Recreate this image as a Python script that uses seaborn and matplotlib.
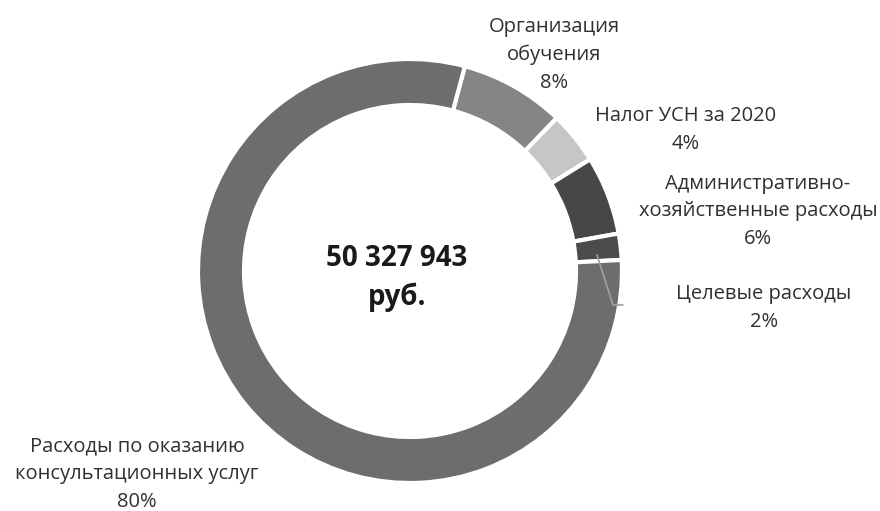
import matplotlib
matplotlib.use('Agg')
import matplotlib.pyplot as plt
import seaborn as sns

categories = [
    'Организация\nобучения',
    'Налог УСН за 2020',
    'Административно-\nхозяйственные расходы',
    'Целевые расходы',
    'Расходы по оказанию\nконсультационных услуг',
]
shares = [8, 4, 6, 2, 80]
colors = ['#858585', '#c6c6c6', '#474747', '#4c4c4c', '#6d6d6d']
total_text = '50 327 943\nруб.'

sns.set_theme(style='white')
plt.rcParams['font.family'] = ['Open Sans', 'DejaVu Sans']

fig = plt.figure(figsize=(8.8, 5.11), dpi=100)
ax = fig.add_axes([0, 0, 1, 1])

# pixel-like coordinates, y up
H = 511
cx, cy, r = 410, H - 271, 212
wedges, _ = ax.pie(
    shares,
    colors=colors,
    startangle=75,
    counterclock=False,
    radius=r,
    center=(cx, cy),
    wedgeprops=dict(width=46, edgecolor='white', linewidth=3),
    frame=True,
)
ax.set_xlim(0, 880)
ax.set_ylim(0, H)
ax.set_aspect('equal')
ax.axis('off')

# label block centres (x, y from top) for each slice
label_pos = [(554, 55), (686, 130), (758, 211), (764, 308), (137, 474)]
for name, val, (x, y) in zip(categories, shares, label_pos):
    ax.text(x, H - y, f'{name}\n{val}%', ha='center', va='center',
            fontsize=14.5, color='#303030', linespacing=1.5)

# leader line for the small slice
ax.plot([597, 613, 623], [H - 255, H - 305, H - 305],
        color='#a0a0a0', lw=1.2)

ax.text(397, H - 278, total_text, ha='center', va='center',
        fontsize=20, fontweight='bold', color='#1a1a1a', linespacing=1.45)

fig.savefig('out.png', dpi=100, facecolor='white')
